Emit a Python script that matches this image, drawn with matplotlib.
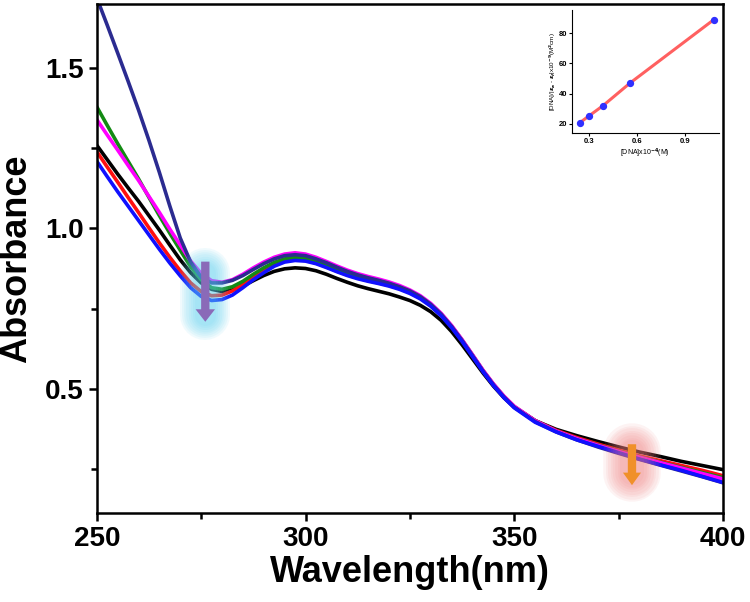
import numpy as np
import matplotlib.pyplot as plt

plt.rcParams['font.family'] = ['Liberation Sans', 'DejaVu Sans']
plt.rcParams['font.weight'] = 'bold'

# UV-vis spectra: 2.5 nm steps up to 350 nm, 5 nm after
wavelength = [250, 252.5, 255, 257.5, 260, 262.5, 265, 267.5, 270, 272.5,
              275, 277.5, 280, 282.5, 285, 287.5, 290, 292.5, 295, 297.5,
              300, 302.5, 305, 307.5, 310, 312.5, 315, 317.5, 320, 322.5,
              325, 327.5, 330, 332.5, 335, 337.5, 340, 342.5, 345, 347.5,
              350, 355, 360, 365, 370, 375, 380, 385, 390, 395, 400]

abs_navy = [1.72, 1.635, 1.548, 1.46, 1.37, 1.275, 1.175, 1.07, 0.97, 0.895,
            0.848, 0.83, 0.83, 0.838, 0.853, 0.872, 0.89, 0.905, 0.915, 0.918,
            0.915, 0.905, 0.893, 0.879, 0.866, 0.855, 0.846, 0.838, 0.829, 0.818,
            0.805, 0.787, 0.763, 0.732, 0.694, 0.65, 0.603, 0.555, 0.512, 0.474,
            0.442, 0.397, 0.365, 0.34, 0.318, 0.298, 0.279, 0.261, 0.243, 0.225, 0.206]
abs_magenta = [1.34, 1.292, 1.245, 1.197, 1.15, 1.10, 1.05, 0.998, 0.948, 0.898,
               0.86, 0.837, 0.832, 0.84, 0.857, 0.877, 0.895, 0.91, 0.92, 0.924,
               0.92, 0.91, 0.897, 0.883, 0.87, 0.859, 0.85, 0.842, 0.833, 0.822,
               0.808, 0.79, 0.766, 0.735, 0.697, 0.653, 0.606, 0.558, 0.515, 0.477,
               0.445, 0.40, 0.368, 0.344, 0.323, 0.304, 0.286, 0.269, 0.252, 0.235, 0.218]
abs_green = [1.38, 1.322, 1.265, 1.21, 1.155, 1.097, 1.04, 0.985, 0.932, 0.88,
             0.84, 0.815, 0.81, 0.818, 0.835, 0.857, 0.877, 0.894, 0.905, 0.91,
             0.907, 0.898, 0.886, 0.873, 0.861, 0.851, 0.843, 0.835, 0.827, 0.817,
             0.804, 0.787, 0.763, 0.733, 0.695, 0.652, 0.605, 0.557, 0.514, 0.476,
             0.444, 0.40, 0.368, 0.344, 0.324, 0.305, 0.287, 0.27, 0.254, 0.238, 0.222]
abs_black = [1.26, 1.215, 1.17, 1.127, 1.085, 1.04, 0.995, 0.948, 0.902, 0.862,
             0.83, 0.81, 0.803, 0.808, 0.82, 0.837, 0.853, 0.866, 0.874, 0.877,
             0.875, 0.868, 0.857, 0.844, 0.832, 0.821, 0.812, 0.804, 0.796, 0.786,
             0.775, 0.76, 0.74, 0.713, 0.678, 0.637, 0.593, 0.549, 0.508, 0.472,
             0.442, 0.40, 0.373, 0.353, 0.335, 0.318, 0.302, 0.288, 0.273, 0.26, 0.247]
abs_red = [1.24, 1.192, 1.145, 1.097, 1.05, 1.002, 0.955, 0.91, 0.868, 0.83,
           0.803, 0.79, 0.792, 0.805, 0.825, 0.848, 0.868, 0.886, 0.898, 0.903,
           0.90, 0.892, 0.88, 0.867, 0.855, 0.845, 0.837, 0.83, 0.822, 0.812,
           0.80, 0.783, 0.76, 0.73, 0.693, 0.65, 0.603, 0.556, 0.513, 0.475,
           0.443, 0.40, 0.37, 0.347, 0.327, 0.308, 0.29, 0.275, 0.26, 0.245, 0.228]
abs_blue = [1.21, 1.162, 1.115, 1.07, 1.025, 0.98, 0.935, 0.892, 0.852, 0.815,
            0.788, 0.775, 0.778, 0.792, 0.815, 0.84, 0.862, 0.882, 0.895, 0.90,
            0.898, 0.89, 0.878, 0.865, 0.853, 0.843, 0.835, 0.828, 0.82, 0.81,
            0.797, 0.78, 0.757, 0.727, 0.69, 0.647, 0.60, 0.553, 0.51, 0.472,
            0.44, 0.395, 0.365, 0.34, 0.32, 0.30, 0.28, 0.262, 0.245, 0.226, 0.207]

# inset: binding plot
dna_conc = [0.244, 0.30, 0.389, 0.559, 1.08]
dna_ratio = [20.7, 25.1, 32.0, 47.1, 88.9]

fig = plt.figure(figsize=(7.5, 6.02), dpi=100)
ax = fig.add_axes([0.129, 0.148, 0.835, 0.845])

curves = [(abs_black, 'black'), (abs_red, '#ff1010'), (abs_green, '#138a13'),
          (abs_magenta, '#ff00ff'), (abs_navy, '#2b2b90'), (abs_blue, '#1010ff')]
for vals, col in curves:
    ax.plot(wavelength, vals, color=col, lw=2.6, solid_joinstyle='round')

# soft halos behind the arrows (stacked translucent strokes)
for lw in [36, 33, 30, 27, 24, 21, 18, 15]:
    ax.plot([276, 276], [0.862, 0.731], color='#5cd2f0', lw=lw, alpha=0.09,
            solid_capstyle='round', zorder=3)
    ax.plot([378.2, 378.2], [0.303, 0.2375], color='#f07d7d', lw=lw * 1.15, alpha=0.09,
            solid_capstyle='round', zorder=3)
ax.annotate('', xy=(276, 0.70), xytext=(276, 0.905),
            arrowprops=dict(arrowstyle='simple,head_width=1.4,head_length=0.9,tail_width=0.6',
                            color='#8a6ab8', lw=0), zorder=4)
ax.annotate('', xy=(378.2, 0.19), xytext=(378.2, 0.335),
            arrowprops=dict(arrowstyle='simple,head_width=1.3,head_length=0.9,tail_width=0.6',
                            color='#f0902a', lw=0), zorder=4)

ax.set_xlim(250, 400)
ax.set_ylim(0.112, 1.70)
ax.set_xticks([250, 300, 350, 400])
ax.set_xticks([275, 325, 375], minor=True)
ax.set_yticks([0.5, 1.0, 1.5])
ax.set_yticks([0.25, 0.75, 1.25], minor=True)
ax.tick_params(axis='both', which='major', labelsize=20, width=1.8, length=6, direction='out')
ax.tick_params(axis='both', which='minor', width=1.8, length=4, direction='out')
for s in ax.spines.values():
    s.set_linewidth(1.8)
ax.set_xlabel('Wavelength(nm)', fontsize=26, fontweight='bold', labelpad=2)
ax.set_ylabel('Absorbance', fontsize=26, fontweight='bold', labelpad=8)

# inset
ins = fig.add_axes([0.763, 0.779, 0.195, 0.205])
ins.plot(dna_conc, dna_ratio, color='#ff6060', lw=2.2, zorder=1)
ins.scatter(dna_conc, dna_ratio, color='#3030ff', s=18, zorder=2)
ins.set_xlim(0.196, 1.11)
ins.set_ylim(13.8, 95.6)
ins.set_xticks([0.3, 0.6, 0.9])
ins.set_yticks([20, 40, 60, 80])
ins.spines['top'].set_visible(False)
ins.spines['right'].set_visible(False)
ins.tick_params(labelsize=5.5, width=0.8, length=2, pad=1.5)
ins.set_xlabel(r'[DNA]x10$^{-4}$(M)', fontsize=5, labelpad=1)
ins.set_ylabel(r'[DNA]/|$\epsilon_a$ - $\epsilon_f$|x10$^{-9}$(M$^2$cm)', fontsize=4.5, labelpad=1)
ins.patch.set_alpha(0)

fig.savefig('out.png', dpi=100)
